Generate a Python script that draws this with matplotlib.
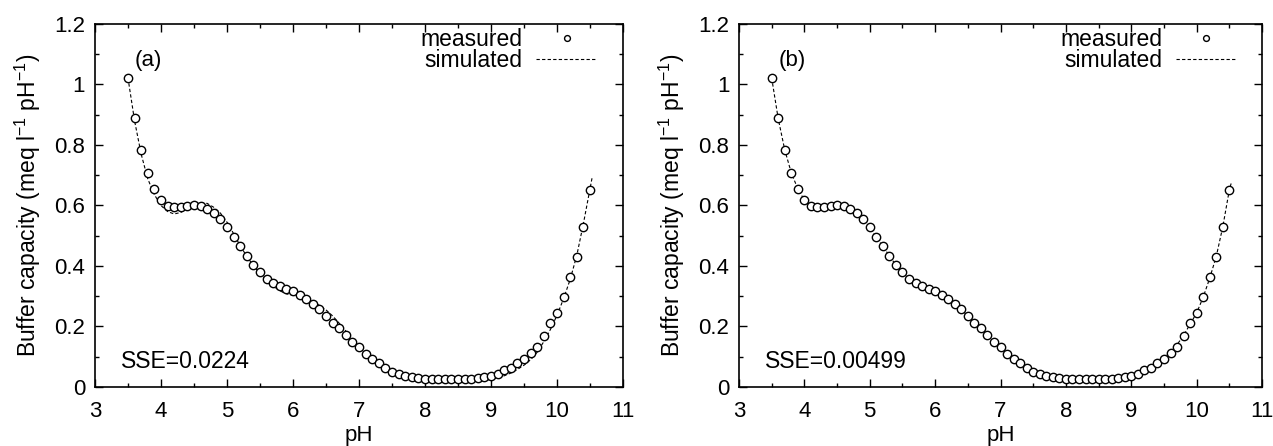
import numpy as np
import matplotlib
matplotlib.use("Agg")
import matplotlib.pyplot as plt
from matplotlib.ticker import MultipleLocator

plt.rcParams['font.family'] = ['Liberation Sans', 'DejaVu Sans']
plt.rcParams['mathtext.fontset'] = 'custom'
plt.rcParams['mathtext.rm'] = 'Liberation Sans'
plt.rcParams['mathtext.it'] = 'Liberation Sans'

# ---- data ----
ph_measured = [3.5, 3.6, 3.7, 3.8, 3.9, 4.0, 4.1, 4.2, 4.3, 4.4, 4.5, 4.6, 4.7, 4.8, 4.9,
               5.0, 5.1, 5.2, 5.3, 5.4, 5.5, 5.6, 5.7, 5.8, 5.9, 6.0, 6.1, 6.2, 6.3, 6.4,
               6.5, 6.6, 6.7, 6.8, 6.9, 7.0, 7.1, 7.2, 7.3, 7.4, 7.5, 7.6, 7.7, 7.8, 7.9,
               8.0, 8.1, 8.2, 8.3, 8.4, 8.5, 8.6, 8.7, 8.8, 8.9, 9.0, 9.1, 9.2, 9.3, 9.4,
               9.5, 9.6, 9.7, 9.8, 9.9, 10.0, 10.1, 10.2, 10.3, 10.4, 10.5]
buffer_measured = [1.022, 0.888, 0.785, 0.709, 0.656, 0.618, 0.598, 0.594, 0.594, 0.598,
                   0.601, 0.598, 0.589, 0.575, 0.556, 0.528, 0.495, 0.466, 0.434, 0.402,
                   0.379, 0.358, 0.343, 0.333, 0.324, 0.317, 0.305, 0.290, 0.273, 0.258,
                   0.236, 0.213, 0.196, 0.171, 0.149, 0.132, 0.110, 0.092, 0.078, 0.062,
                   0.051, 0.042, 0.036, 0.033, 0.030, 0.028, 0.026, 0.026, 0.027, 0.027,
                   0.027, 0.026, 0.027, 0.031, 0.034, 0.037, 0.043, 0.055, 0.064, 0.080,
                   0.094, 0.114, 0.133, 0.170, 0.210, 0.243, 0.297, 0.362, 0.430, 0.528,
                   0.652]

ph_simulated = ph_measured + [10.53]
buffer_sim_a = [1.022, 0.880, 0.770, 0.688, 0.636, 0.600, 0.580, 0.572, 0.577, 0.590,
                0.602, 0.608, 0.607, 0.594, 0.575, 0.545, 0.507, 0.467, 0.432, 0.401,
                0.375, 0.352, 0.333, 0.318, 0.308, 0.303, 0.298, 0.291, 0.281, 0.270,
                0.255, 0.235, 0.211, 0.185, 0.158, 0.133, 0.109, 0.088, 0.070, 0.055,
                0.044, 0.035, 0.029, 0.025, 0.022, 0.020, 0.018, 0.017, 0.016, 0.016,
                0.016, 0.017, 0.018, 0.019, 0.022, 0.025, 0.030, 0.037, 0.046, 0.058,
                0.072, 0.090, 0.115, 0.150, 0.190, 0.237, 0.292, 0.356, 0.435, 0.540,
                0.655, 0.690]
buffer_sim_b = [1.022, 0.887, 0.784, 0.708, 0.655, 0.618, 0.598, 0.592, 0.593, 0.597,
                0.600, 0.598, 0.590, 0.575, 0.555, 0.527, 0.495, 0.465, 0.434, 0.403,
                0.379, 0.358, 0.343, 0.332, 0.323, 0.315, 0.304, 0.289, 0.272, 0.256,
                0.235, 0.214, 0.195, 0.172, 0.150, 0.130, 0.110, 0.091, 0.076, 0.061,
                0.050, 0.040, 0.034, 0.029, 0.026, 0.023, 0.021, 0.020, 0.019, 0.019,
                0.019, 0.020, 0.022, 0.025, 0.029, 0.034, 0.041, 0.051, 0.063, 0.078,
                0.096, 0.116, 0.140, 0.170, 0.208, 0.245, 0.297, 0.360, 0.432, 0.530,
                0.652, 0.675]

panel_labels = ['(a)', '(b)']
sse_labels = ['SSE=0.0224', 'SSE=0.00499']
sim_series = [buffer_sim_a, buffer_sim_b]

x_ticks = [3, 4, 5, 6, 7, 8, 9, 10, 11]
y_ticks = [0, 0.2, 0.4, 0.6, 0.8, 1.0, 1.2]
y_ticklabels = ['0', '0.2', '0.4', '0.6', '0.8', '1', '1.2']

fig = plt.figure(figsize=(12.73, 4.46), dpi=100)
axes_pos = [[0.0746, 0.1323, 0.4148, 0.8139], [0.5805, 0.1323, 0.4109, 0.8139]]

for i in range(2):
    ax = fig.add_axes(axes_pos[i])
    ax.plot(ph_simulated, sim_series[i], color='black', lw=0.8,
            linestyle=(0, (3, 2)), label='simulated')
    ax.plot(ph_measured, buffer_measured, linestyle='none', marker='o', ms=6,
            mfc='white', mec='black', mew=1.0, label='measured')
    ax.set_xlim(3, 11)
    ax.set_ylim(0, 1.2)
    ax.set_xticks(x_ticks)
    ax.set_yticks(y_ticks)
    ax.set_yticklabels(y_ticklabels)
    ax.xaxis.set_minor_locator(MultipleLocator(0.5))
    ax.yaxis.set_minor_locator(MultipleLocator(0.1))
    ax.tick_params(which='both', direction='in', top=True, right=True,
                   labelsize=16, width=1.0)
    ax.tick_params(which='major', length=6, pad=7)
    ax.tick_params(axis='x', which='major', pad=10)
    ax.tick_params(which='minor', length=3)
    for s in ax.spines.values():
        s.set_linewidth(1.2)
    ax.set_xlabel('pH', fontsize=16, labelpad=2)
    ax.set_ylabel('Buffer capacity (meq l$^{-1}$ pH$^{-1}$)', fontsize=16.5, labelpad=8)
    ax.text(3.6, 1.08, panel_labels[i], fontsize=16, ha='left', va='center')
    ax.text(3.4, 0.085, sse_labels[i], fontsize=16.5, ha='left', va='center')
    h, l = ax.get_legend_handles_labels()
    ax.legend([h[1], h[0]], [l[1], l[0]], loc='upper right', frameon=False,
              bbox_to_anchor=(0.951, 0.99),
              markerfirst=False, fontsize=16.5, handlelength=2.65, handletextpad=0.6,
              labelspacing=-0.05, borderaxespad=0.0, borderpad=0.0, markerscale=0.7)

fig.savefig('out.png', dpi=100)
